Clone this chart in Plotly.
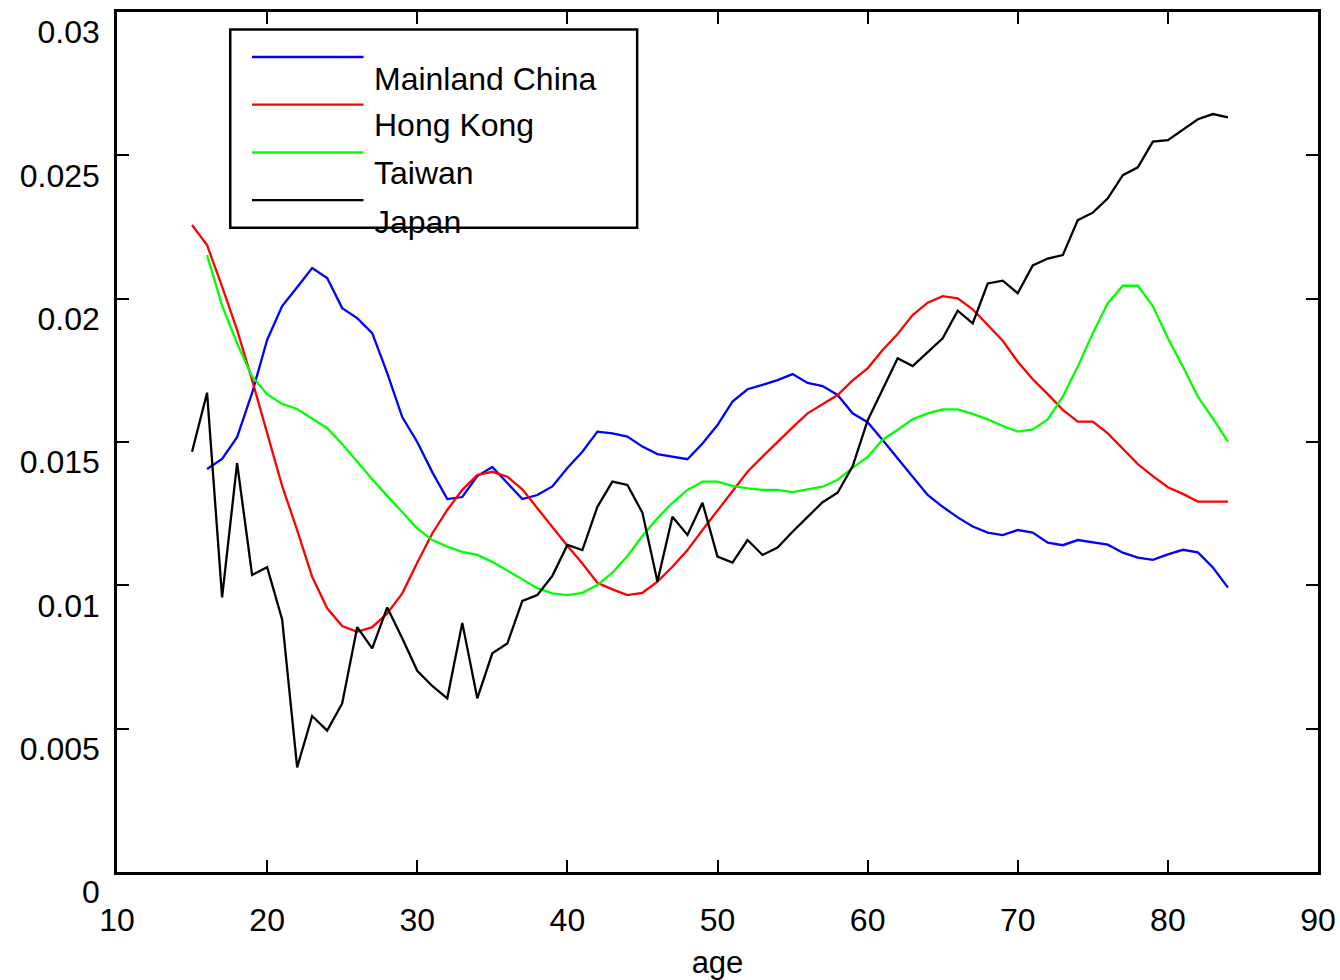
import plotly.graph_objects as go

# ---------------- data ----------------
ages_15 = list(range(15, 85))
ages_16 = list(range(16, 85))

mainland_china = [
    0.01406, 0.01441, 0.01517, 0.01671, 0.01856, 0.01974, 0.02040, 0.02107, 0.02072,
    0.01967, 0.01932, 0.01880, 0.01740, 0.01587, 0.01500, 0.01395, 0.01301, 0.01308,
    0.01381, 0.01413, 0.01357, 0.01301, 0.01315, 0.01345, 0.01409, 0.01466, 0.01536,
    0.01530, 0.01519, 0.01484, 0.01458, 0.01449, 0.01440, 0.01495, 0.01559, 0.01641,
    0.01684, 0.01699, 0.01716, 0.01737, 0.01706, 0.01695, 0.01664, 0.01600, 0.01569,
    0.01507, 0.01441, 0.01379, 0.01315, 0.01274, 0.01237, 0.01205, 0.01184, 0.01175,
    0.01193, 0.01184, 0.01149, 0.01140, 0.01158, 0.01149, 0.01142, 0.01114, 0.01097,
    0.01089, 0.01108, 0.01124, 0.01115, 0.01062, 0.00992,
]

hong_kong = [
    0.02257, 0.02187, 0.02042, 0.01891, 0.01716, 0.01536, 0.01347, 0.01193, 0.01030,
    0.00920, 0.00858, 0.00838, 0.00854, 0.00902, 0.00972, 0.01079, 0.01181, 0.01263,
    0.01333, 0.01385, 0.01396, 0.01379, 0.01335, 0.01269, 0.01203, 0.01138, 0.01076,
    0.01009, 0.00986, 0.00966, 0.00974, 0.01013, 0.01065, 0.01123, 0.01193, 0.01260,
    0.01327, 0.01396, 0.01449, 0.01501, 0.01551, 0.01600, 0.01633, 0.01664, 0.01715,
    0.01757, 0.01821, 0.01877, 0.01943, 0.01986, 0.02009, 0.02001, 0.01963, 0.01908,
    0.01853, 0.01780, 0.01719, 0.01667, 0.01612, 0.01571, 0.01571, 0.01530, 0.01478,
    0.01423, 0.01381, 0.01342, 0.01319, 0.01292, 0.01292, 0.01292,
]

taiwan = [
    0.02152, 0.01976, 0.01844, 0.01728, 0.01667, 0.01633, 0.01615, 0.01583, 0.01548,
    0.01493, 0.01431, 0.01370, 0.01312, 0.01257, 0.01199, 0.01158, 0.01135, 0.01117,
    0.01106, 0.01082, 0.01051, 0.01021, 0.00990, 0.00972, 0.00966, 0.00974, 0.01001,
    0.01044, 0.01102, 0.01172, 0.01234, 0.01288, 0.01333, 0.01362, 0.01362, 0.01347,
    0.01338, 0.01333, 0.01333, 0.01325, 0.01335, 0.01344, 0.01368, 0.01410, 0.01448,
    0.01508, 0.01543, 0.01579, 0.01600, 0.01614, 0.01614, 0.01598, 0.01579, 0.01556,
    0.01536, 0.01544, 0.01579, 0.01658, 0.01763, 0.01879, 0.01984, 0.02045, 0.02045,
    0.01974, 0.01862, 0.01763, 0.01658, 0.01582, 0.01501,
]

japan = [
    0.01466, 0.01672, 0.00958, 0.01426, 0.01036, 0.01063, 0.00881, 0.00365, 0.00544,
    0.00493, 0.00588, 0.00854, 0.00780, 0.00923, 0.00815, 0.00702, 0.00649, 0.00606,
    0.00869, 0.00606, 0.00763, 0.00797, 0.00946, 0.00966, 0.01033, 0.01141, 0.01123,
    0.01274, 0.01362, 0.01350, 0.01253, 0.01013, 0.01239, 0.01176, 0.01288, 0.01100,
    0.01079, 0.01158, 0.01106, 0.01132, 0.01187, 0.01237, 0.01290, 0.01323, 0.01415,
    0.01575, 0.01684, 0.01792, 0.01765, 0.01812, 0.01862, 0.01958, 0.01914, 0.02053,
    0.02063, 0.02019, 0.02116, 0.02140, 0.02152, 0.02274, 0.02300, 0.02350, 0.02431,
    0.02458, 0.02548, 0.02553, 0.02588, 0.02626, 0.02644, 0.02632,
]

series_names = ["Mainland China", "Hong Kong", "Taiwan", "Japan"]
series_colors = ["#0000ff", "#ff0000", "#00ff00", "#000000"]
series_x = [ages_16, ages_15, ages_16, ages_15]
series_y = [mainland_china, hong_kong, taiwan, japan]

x_ticks = [10, 20, 30, 40, 50, 60, 70, 80, 90]
y_ticks = [0, 0.005, 0.01, 0.015, 0.02, 0.025, 0.03]
y_tick_labels = ["0", "0.005", "0.01", "0.015", "0.02", "0.025", "0.03"]

FONT = "Liberation Sans, Arial, Helvetica, sans-serif"

fig = go.Figure()
for name, color, xs, ys in zip(series_names, series_colors, series_x, series_y):
    fig.add_trace(go.Scatter(x=xs, y=ys, mode="lines", name=name,
                             line=dict(color=color, width=2.3), showlegend=False))

# ---- manual MATLAB-style legend (paper coordinates) ----
shapes = [dict(type="rect", xref="paper", yref="paper",
               x0=0.0943, x1=0.4331, y0=0.7491, y1=0.9796,
               line=dict(color="black", width=2.5), fillcolor="rgba(0,0,0,0)")]
annotations = []
line_y = [0.9477, 0.8924, 0.8366, 0.7812]
text_y = [0.9226, 0.8683, 0.8125, 0.7556]
for name, color, ly, ty in zip(series_names, series_colors, line_y, text_y):
    shapes.append(dict(type="line", xref="paper", yref="paper",
                       x0=0.1124, x1=0.2053, y0=ly, y1=ly,
                       line=dict(color=color, width=2.3)))
    annotations.append(dict(xref="paper", yref="paper", x=0.2125, y=ty,
                            xanchor="left", yanchor="middle", showarrow=False,
                            text=name, font=dict(family=FONT, size=32, color="black")))

fig.update_layout(
    width=1340, height=980,
    margin=dict(l=117, r=22, t=12, b=108),
    paper_bgcolor="white", plot_bgcolor="white",
    font=dict(family=FONT, size=32, color="black"),
    shapes=shapes, annotations=annotations,
    xaxis=dict(range=[10, 90], tickvals=x_ticks, ticks="inside", ticklen=12,
               tickwidth=1.5, tickcolor="black", showline=True, linewidth=2.5,
               linecolor="black", mirror="ticks", showgrid=False, zeroline=False,
               ticklabelstandoff=18, automargin=False,
               title=dict(text="age", standoff=20, font=dict(size=31))),
    yaxis=dict(range=[0, 0.03], tickvals=y_ticks, ticktext=y_tick_labels,
               ticks="inside", ticklen=12, tickwidth=1.5, tickcolor="black",
               showline=True, linewidth=2.5, linecolor="black", mirror="ticks",
               showgrid=False, zeroline=False, ticklabelshift=20,
               ticklabelstandoff=8, automargin=False),
)

fig.write_html("out.html")
